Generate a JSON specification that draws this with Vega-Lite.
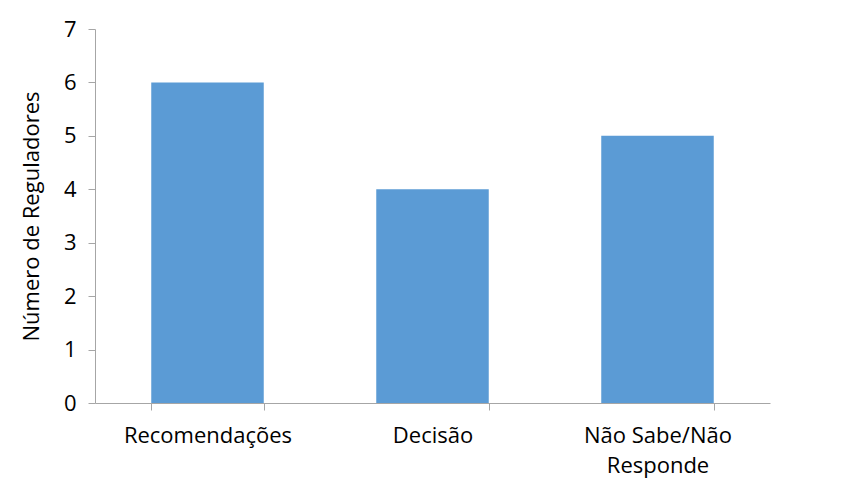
{
  "$schema": "https://vega.github.io/schema/vega-lite/v6.json",
  "width": 675,
  "height": 374,
  "autosize": {"type": "none"},
  "padding": {"left": 95, "top": 29, "right": 93, "bottom": 86},
  "background": "white",
  "config": {"view": {"stroke": null}, "font": "Open Sans"},
  "data": {"values": [
    {"categoria": "Recomendações", "valor": 6},
    {"categoria": "Decisão", "valor": 4},
    {"categoria": "Não Sabe/Não Responde", "valor": 5}
  ]},
  "mark": {"type": "bar", "color": "#5B9BD5"},
  "encoding": {
    "x": {
      "field": "categoria", "type": "nominal", "sort": null,
      "scale": {"paddingInner": 0.5, "paddingOuter": 0.25},
      "axis": {
        "title": null, "labelAngle": 0, "tickBand": "extent",
        "domainColor": "#A6A6A6", "tickColor": "#A6A6A6", "tickSize": 7,
        "labelFontSize": 22, "labelColor": "#000000", "labelPadding": 15,
        "labelLineHeight": 30, "labelBaseline": "top",
        "labelExpr": "datum.value == 'Não Sabe/Não Responde' ? ['Não Sabe/Não', 'Responde'] : datum.value"
      }
    },
    "y": {
      "field": "valor", "type": "quantitative",
      "scale": {"domain": [0, 7]},
      "axis": {
        "title": "Número de Reguladores", "titleFontSize": 22, "titleFontWeight": "normal",
        "titleColor": "#000000", "titlePadding": 20,
        "values": [0, 1, 2, 3, 4, 5, 6, 7], "grid": false,
        "domainColor": "#A6A6A6", "tickColor": "#A6A6A6", "tickSize": 7,
        "labelFontSize": 22, "labelColor": "#000000", "labelPadding": 12
      }
    }
  }
}
